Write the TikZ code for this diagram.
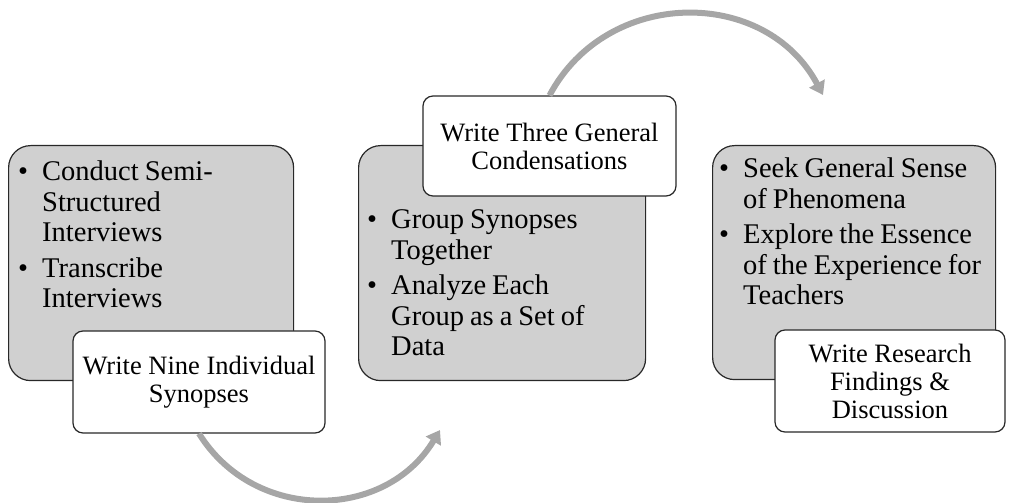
\documentclass[tikz,border=0pt]{standalone}
\usepackage{fontspec}
\setmainfont{Liberation Serif}
\usetikzlibrary{arrows.meta,positioning}

\definecolor{boxgray}{RGB}{208,208,208}
\definecolor{flowgray}{RGB}{166,166,166}
\definecolor{edgegray}{RGB}{40,40,40}

\newcommand{\bulletline}{\par\noindent\hangindent=24pt\hangafter=1\makebox[24pt][l]{\textbullet}}

\tikzset{
  stagebox/.style={draw=edgegray, line width=1.2pt, fill=boxgray, rounded corners=22pt, anchor=north west, inner sep=0pt},
  stagetext/.style={anchor=north west, inner sep=0pt, text width=290pt, align=left,
    font=\fontsize{28.5}{30.5}\selectfont,
    execute at begin node={\setlength{\parskip}{5pt}\spaceskip=6pt}},
  notebox/.style={draw=edgegray, line width=1.2pt, fill=white, rounded corners=10pt, align=center,
    font=\fontsize{26.5}{28}\selectfont},
  flow/.style={draw=flowgray, line width=6pt, -{Triangle[width=17pt,length=13pt]}}
}

\begin{document}
\begin{tikzpicture}[x=1pt,y=1pt]
\useasboundingbox (0,0) rectangle (1015,503);

% first stage
\node[stagebox, minimum width=285pt, minimum height=235pt] (g1) at (8,358) {};
\node[stagetext] (t1) at ([shift={(10,0)}]g1.north west)
  {\bulletline Conduct Semi-\newline Structured\newline Interviews
   \bulletline Transcribe\newline Interviews\par};
\node[notebox, minimum width=252pt, minimum height=102pt] (w1) at (199,121)
  {Write Nine Individual\\Synopses};

% second stage
\node[stagebox, minimum width=287pt, minimum height=235pt] (g2) at (358,358) {};
\node[stagetext] (t2) at ([shift={(9,-48)}]g2.north west)
  {\bulletline Group Synopses\newline Together
   \bulletline Analyze Each\newline Group as a Set of\newline Data\par};
\node[notebox, minimum width=253pt, minimum height=100pt] (w2) at (549.5,357)
  {Write Three General\\Condensations};

% third stage
\node[stagebox, minimum width=283pt, minimum height=234pt] (g3) at (712,358) {};
\node[stagetext] (t3) at ([shift={(7,3)}]g3.north west)
  {\bulletline Seek General Sense\newline of Phenomena
   \bulletline Explore the Essence\newline of the Experience for\newline Teachers\par};
\node[notebox, minimum width=230pt, minimum height=102pt] (w3) at (890,122)
  {Write Research\\Findings \&\\Discussion};

% arrows between stages
\coordinate (f1) at (440,73);
\coordinate (f2) at (823,408);
\draw[flow] (w1.south) to[out=-58, in=-121, looseness=1.12] (f1);
\draw[flow] (w2.north) to[out=62, in=118, looseness=1.15] (f2);
\end{tikzpicture}
\end{document}
